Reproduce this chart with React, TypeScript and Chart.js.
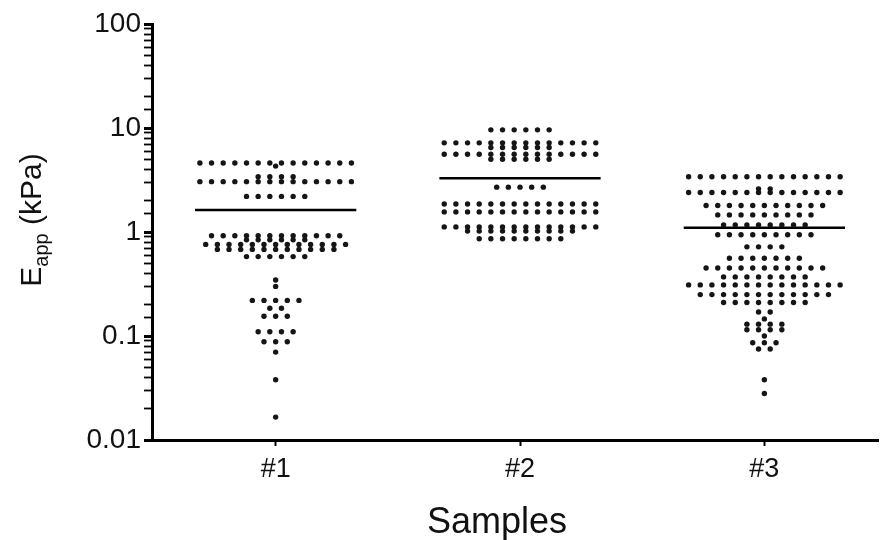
import React, { useEffect, useRef } from "react";
import { Chart, registerables } from "chart.js";

Chart.register(...registerables);

const categories = ["#1", "#2", "#3"];
const yTickValues = [0.01, 0.1, 1, 10, 100];
const yTitleMain = "E";
const yTitleSub = "app";
const yTitleRest = " (kPa)";
const xTitle = "Samples";

// Sample #1: row levels (kPa) and number of cells per level
const s1Levels = [4.6, 4.3, 3.4, 3.05, 2.2, 0.92, 0.84, 0.76, 0.68, 0.58, 0.345, 0.3, 0.22, 0.185, 0.155, 0.11, 0.088, 0.07, 0.038, 0.0166];
const s1Counts = [14, 1, 4, 14, 6, 12, 6, 13, 11, 6, 1, 1, 5, 2, 3, 4, 3, 1, 1, 1];
const s1Mean = 1.63;

// Sample #2
const s2Levels = [9.6, 7.2, 6.5, 5.6, 5.0, 2.7, 1.86, 1.56, 1.12, 1.02, 0.86];
const s2Counts = [6, 14, 6, 14, 6, 5, 14, 14, 14, 10, 8];
const s2Mean = 3.28;

// Sample #3
const s3Levels = [3.4, 2.6, 2.4, 1.8, 1.46, 1.17, 0.94, 0.72, 0.56, 0.45, 0.37, 0.31, 0.25, 0.21, 0.17, 0.146, 0.13, 0.115, 0.1, 0.086, 0.075, 0.038, 0.028];
const s3Counts = [14, 2, 14, 11, 9, 8, 9, 4, 7, 11, 8, 14, 12, 8, 2, 1, 4, 4, 1, 3, 2, 1, 1];
const s3Mean = 1.1;

const STEP = 0.0477; // horizontal spacing of swarm columns (category units)
const MEAN_HALF = 0.33;

function swarm(center: number, levels: number[], counts: number[]) {
  const pts: { x: number; y: number }[] = [];
  levels.forEach((v, i) => {
    const n = counts[i];
    for (let k = 0; k < n; k++) {
      pts.push({ x: center + (k - (n - 1) / 2) * STEP, y: v });
    }
  });
  return pts;
}

function isPow10(v: number) {
  const l = Math.log10(v);
  return Math.abs(l - Math.round(l)) < 1e-9;
}

const FONT = "'Liberation Sans', Arial, Helvetica, sans-serif";

export default function App() {
  const ref = useRef<HTMLCanvasElement | null>(null);

  useEffect(() => {
    document.body.style.margin = "0";
    const canvas = ref.current;
    if (!canvas) return;

    const all = [
      { levels: s1Levels, counts: s1Counts, mean: s1Mean },
      { levels: s2Levels, counts: s2Counts, mean: s2Mean },
      { levels: s3Levels, counts: s3Counts, mean: s3Mean },
    ];

    const datasets: any[] = [];
    all.forEach((s, i) => {
      const c = i + 1;
      datasets.push({
        type: "scatter",
        label: categories[i],
        data: swarm(c, s.levels, s.counts),
        pointRadius: 2.7,
        pointBackgroundColor: "#151515",
        pointBorderWidth: 0,
        showLine: false,
      });
      datasets.push({
        type: "line",
        label: categories[i] + " mean",
        data: [
          { x: c - MEAN_HALF, y: s.mean },
          { x: c + MEAN_HALF, y: s.mean },
        ],
        borderColor: "#000",
        borderWidth: 2.5,
        pointRadius: 0,
        fill: false,
      });
    });

    const titlePlugin = {
      id: "titles",
      afterDraw(chart: any) {
        const ctx = chart.ctx;
        ctx.save();
        ctx.fillStyle = "#111";
        // x title
        ctx.font = `36px ${FONT}`;
        ctx.textAlign = "center";
        ctx.textBaseline = "alphabetic";
        ctx.fillText(xTitle, 497, 533);
        // y title (rotated, with subscript)
        const big = `30px ${FONT}`;
        const small = `20px ${FONT}`;
        ctx.font = big;
        const wE = ctx.measureText(yTitleMain).width;
        const wR = ctx.measureText(yTitleRest).width;
        ctx.font = small;
        const wS = ctx.measureText(yTitleSub).width;
        const total = wE + wS + wR;
        ctx.translate(41, 220);
        ctx.rotate(-Math.PI / 2);
        ctx.textAlign = "left";
        let x = -total / 2;
        ctx.font = big;
        ctx.fillText(yTitleMain, x, 0);
        x += wE;
        ctx.font = small;
        ctx.fillText(yTitleSub, x, 7);
        x += wS;
        ctx.font = big;
        ctx.fillText(yTitleRest, x, 0);
        ctx.restore();
      },
    };

    const chart = new Chart(canvas, {
      type: "scatter",
      data: { datasets },
      options: {
        animation: false,
        responsive: false,
        devicePixelRatio: 1,
        layout: { padding: { left: 0, top: 24, right: 2, bottom: 0 } },
        plugins: { legend: { display: false }, tooltip: { enabled: false } },
        scales: {
          x: {
            type: "linear",
            min: 0.494,
            max: 3.465,
            afterFit: (s: any) => {
              s.height = 100;
            },
            afterBuildTicks: (s: any) => {
              s.ticks = categories.map((_, i) => ({ value: i + 1 }));
            },
            ticks: {
              callback: (v: any) => categories[Math.round(Number(v)) - 1] ?? "",
              color: "#111",
              font: { family: FONT, size: 27 },
              padding: 7,
              maxRotation: 0,
            },
            grid: { drawOnChartArea: false, drawTicks: true, tickLength: 6, tickColor: "#000", tickWidth: 2 },
            border: { display: true, color: "#000", width: 3 },
          },
          y: {
            type: "logarithmic",
            min: 0.01,
            max: 100,
            afterFit: (s: any) => {
              s.width = 152;
            },
            ticks: {
              autoSkip: false,
              callback: (v: any) => {
                const n = Number(v);
                if (!yTickValues.some((t) => Math.abs(Math.log10(t) - Math.log10(n)) < 1e-9)) return "";
                return String(10 ** Math.round(Math.log10(n)));
              },
              color: "#111",
              font: { family: FONT, size: 28 },
              padding: 3,
            },
            grid: {
              drawOnChartArea: false,
              drawTicks: true,
              tickLength: 8,
              tickColor: "#000",
              tickWidth: (c: any) => (c.tick && isPow10(c.tick.value) ? 3 : 1.8),
            },
            border: { display: true, color: "#000", width: 3 },
          },
        },
      },
      plugins: [titlePlugin],
    });

    return () => chart.destroy();
  }, []);

  return (
    <div style={{ width: 882, height: 540, background: "#fff" }}>
      <canvas ref={ref} width={882} height={540} style={{ display: "block" }} />
    </div>
  );
}
